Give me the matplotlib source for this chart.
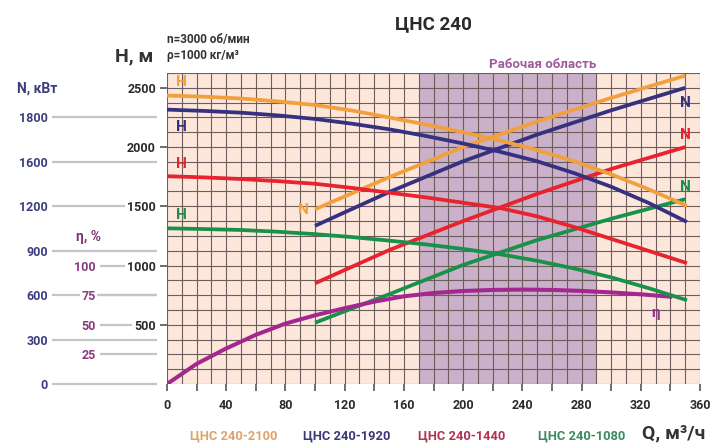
import matplotlib
matplotlib.use("Agg")
import matplotlib.pyplot as plt
from matplotlib.ticker import MultipleLocator, FixedLocator

plt.rcParams['font.family'] = ['Roboto', 'DejaVu Sans']
plt.rcParams['font.weight'] = 'bold'

# --- data ---
q_h = [0, 25, 50, 75, 100, 125, 150, 175, 200, 225, 250, 275, 300, 325, 350]
h_2100 = [2435, 2425, 2410, 2385, 2355, 2308, 2250, 2190, 2125, 2055, 1975, 1880, 1770, 1645, 1510]
h_1920 = [2316, 2305, 2290, 2267, 2237, 2197, 2150, 2093, 2030, 1960, 1880, 1780, 1665, 1530, 1375]
h_1440 = [1754, 1744, 1730, 1712, 1690, 1655, 1615, 1575, 1530, 1485, 1415, 1325, 1225, 1125, 1025]
h_1080 = [1314, 1308, 1300, 1285, 1265, 1240, 1210, 1178, 1140, 1095, 1040, 975, 900, 810, 712]

q_n = [100, 150, 200, 250, 300, 350]
n_2100 = [1180, 1396, 1600, 1772, 1932, 2082]
n_1920 = [1068, 1296, 1504, 1684, 1848, 2000]
n_1440 = [680, 904, 1100, 1284, 1452, 1600]
n_1080 = [414, 606, 804, 972, 1116, 1248]

q_eta = [0, 20, 40, 60, 80, 100, 120, 140, 160, 180, 200, 220, 240, 260, 280, 300, 320, 340]
eta = [0, 17, 30, 41.5, 51, 58, 64, 69.5, 74, 76.8, 78.5, 79.4, 79.7, 79.4, 78.6, 77.3, 75.7, 73.7]

models = ["ЦНС 240-2100", "ЦНС 240-1920", "ЦНС 240-1440", "ЦНС 240-1080"]
h_ticks = [500, 1000, 1500, 2000, 2500]
n_ticks = [0, 300, 600, 900, 1200, 1500, 1800]
n_tick_labels = ["0", "300", "600", "900", "1200", "1600", "1800"]
eta_ticks = [25, 50, 75, 100]
work_zone = (170, 290)

colors = ["#f2a03d", "#35307f", "#e8222e", "#18914a"]
legend_colors = ["#dea36a", "#3b3878", "#b03353", "#3c8a5f"]
eta_color = "#a3278f"
grid_color = "#6e5d5d"
dark = "#2a2a2a"

fig = plt.figure(figsize=(7.12, 4.46), dpi=100)
rect = [167 / 712, 1 - 384 / 446, (700 - 167) / 712, (384 - 73) / 446]

# N axis: background, grid, power curves
ax_n = fig.add_axes(rect, zorder=0)
ax_n.set_facecolor("#fde7db")
ax_n.set_xlim(0, 360)
ax_n.set_ylim(0, 2100)
ax_n.axvspan(*work_zone, color="#cab0c8", zorder=0.5, lw=0)
ax_n.xaxis.set_major_locator(MultipleLocator(10))
ax_n.yaxis.set_major_locator(FixedLocator(n_ticks))
ax_n.yaxis.set_minor_locator(MultipleLocator(100))
ax_n.set_yticklabels(n_tick_labels)
ax_n.grid(axis="x", which="major", color=grid_color, lw=0.8)
ax_n.grid(axis="y", which="both", color=grid_color, lw=0.8)
ax_n.set_axisbelow(True)
ax_n.tick_params(axis="x", length=0, labelbottom=False)
ax_n.tick_params(axis="y", which="minor", length=0)
ax_n.spines["left"].set_position(("outward", 115 * 0.72))
ax_n.tick_params(axis="y", which="major", direction="in", length=105 * 0.72,
                 width=1.6, color="#c4c4cc", labelsize=9, labelcolor="#3b3d7c", pad=3)
for s in ax_n.spines.values():
    s.set_visible(False)
for n_vals, c in zip([n_2100, n_1920, n_1440, n_1080], colors):
    ax_n.plot(q_n, n_vals, color=c, lw=2.7, solid_capstyle="butt", zorder=3)

# eta axis
ax_e = fig.add_axes(rect, zorder=1)
ax_e.patch.set_visible(False)
ax_e.set_xlim(0, 360)
ax_e.set_ylim(0, 262.5)
ax_e.set_xticks([])
ax_e.set_yticks(eta_ticks)
ax_e.spines["left"].set_position(("outward", 67 * 0.72))
ax_e.tick_params(axis="y", direction="in", length=57 * 0.72, width=1.6, color="#c4c4cc",
                 labelsize=9, labelcolor="#8a3a7e", pad=3)
for lab in ax_e.get_yticklabels():
    lab.set_bbox(dict(facecolor="white", edgecolor="none", pad=1))
for s in ax_e.spines.values():
    s.set_visible(False)
ax_e.plot(q_eta, eta, color=eta_color, lw=2.9, zorder=3)

# H axis
ax = fig.add_axes(rect, zorder=2)
ax.patch.set_visible(False)
ax.set_xlim(0, 360)
ax.set_ylim(0, 2625)
for h_vals, c in zip([h_2100, h_1920, h_1440, h_1080], colors):
    ax.plot(q_h, h_vals, color=c, lw=2.7, zorder=3)
ax.set_yticks(h_ticks)
ax.xaxis.set_major_locator(MultipleLocator(40))
ax.xaxis.set_minor_locator(MultipleLocator(20))
ax.tick_params(axis="y", direction="out", length=5, width=1.2, color="#555555",
               labelsize=9, labelcolor=dark, pad=3)
ax.tick_params(axis="x", which="both", direction="out", length=5, width=1.2,
               color="#555555", labelsize=9, labelcolor=dark, pad=6)
for lab in ax.get_yticklabels():
    lab.set_bbox(dict(facecolor="white", edgecolor="none", pad=1.5))
for s in ax.spines.values():
    s.set_visible(False)

# curve labels
lab_kw = dict(fontsize=11, fontweight="bold", ha="center", va="center")
for (q, h), c in zip([(10, 2550), (10, 2170), (10, 1857), (10, 1427)], colors):
    ax.text(q, h, "H", color=c, **lab_kw)
ax.text(92, 1469, "N", color=colors[0], **lab_kw)
ax.text(350, 2372, "N", color=colors[1], **lab_kw)
ax.text(350, 2102, "N", color=colors[2], **lab_kw)
ax.text(350, 1663, "N", color=colors[3], **lab_kw)
ax.text(330, 600, "η", color=eta_color, **lab_kw)
ax.text(254, 2700, "Рабочая область", color="#a05a9c", fontsize=9.5,
        fontweight="bold", ha="center", va="center", clip_on=False)

# figure texts
W, Hh = 712, 446
def ft(x, y, s, **kw):
    fig.text(x / W, 1 - y / Hh, s, **kw)

ft(433, 24, "ЦНС 240", ha="center", va="center", fontsize=13.5, color=dark)
ft(153, 56, "H, м", ha="right", va="center", fontsize=14, color="#333333")
ft(167, 39, "n=3000 об/мин", ha="left", va="center", fontsize=8.5, color="#333333")
ft(167, 56, "ρ=1000 кг/м³", ha="left", va="center", fontsize=8.5, color="#333333")
ft(17, 89, "N, кВт", ha="left", va="center", fontsize=10, color="#3b3d7c")
ft(89, 237, "η, %", ha="center", va="center", fontsize=10, color="#7c3572")

for x, name, c in zip([234, 347, 462, 582], models, legend_colors):
    ft(x, 436, name, ha="center", va="center", fontsize=9.3, color=c)
ft(642, 433, "Q, м³/ч", ha="left", va="center", fontsize=14, color="#333333")

fig.savefig("out.png", dpi=100)
